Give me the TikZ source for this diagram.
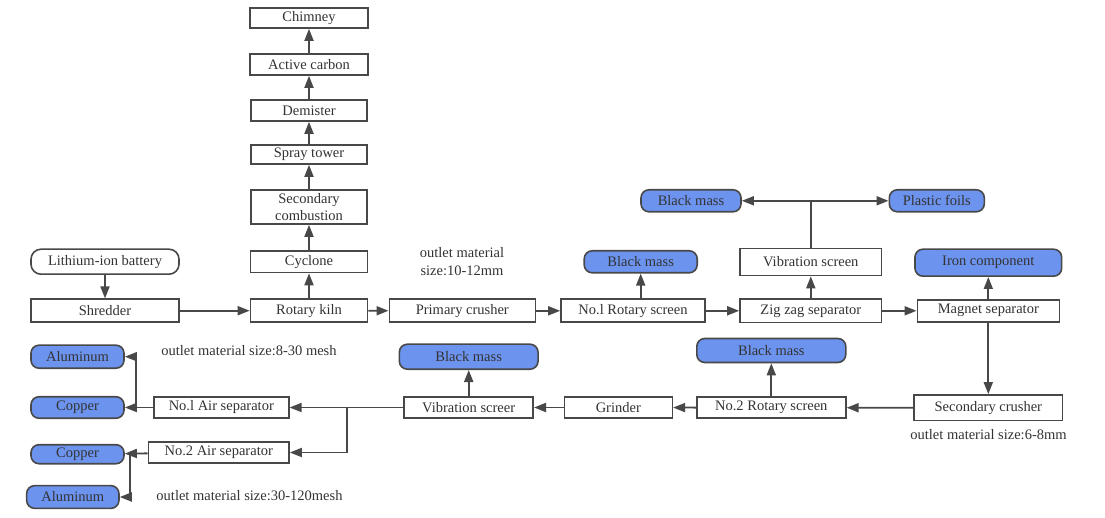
\documentclass[tikz,border=0pt]{standalone}
\usepackage{fontspec}
\setmainfont{Liberation Serif}
\usetikzlibrary{arrows.meta}
\definecolor{linec}{HTML}{484848}
\definecolor{textc}{HTML}{333333}
\definecolor{bluef}{HTML}{6C93EE}
\tikzset{
  bx/.style={draw=linec, line width=1.6pt, fill=white, inner sep=0pt, text=textc,
    font=\fontsize{14.5}{16.5}\selectfont, align=center},
  outb/.style={bx, fill=bluef, rounded corners=8pt},
  rbx/.style={bx, rounded corners=10pt},
  lbl/.style={text=textc, font=\fontsize{14.5}{18}\selectfont, inner sep=0pt, align=center},
  ar/.style={draw=linec, line width=1.8pt, -{Triangle[length=12pt,width=9pt]}},
  ln/.style={draw=linec, line width=1.8pt}
}
\begin{document}
\begin{tikzpicture}[x=1pt,y=-1pt]
\useasboundingbox (0,0) rectangle (1105,518);
% gas path
\node[bx, minimum width=118, minimum height=20] (chim) at (309,18) {Chimney};
\node[bx, minimum width=118, minimum height=21] (act) at (309,64.5) {Active carbon};
\node[bx, minimum width=116, minimum height=21] (dem) at (309,110.5) {Demister};
\node[bx, minimum width=116, minimum height=19] (spr) at (309,154.5) {Spray tower};
\node[bx, minimum width=116, minimum height=34] (sec) at (309,207) {Secondary\\combustion};
\node[bx, minimum width=117, minimum height=21.5] (cyc) at (309,261.8) {Cyclone};
\node[bx, minimum width=117, minimum height=23] (kiln) at (309,310.7) {Rotary kiln};
% left
\node[rbx, minimum width=148, minimum height=25] (li) at (105,261.7) {Lithium-ion battery};
\node[bx, minimum width=148, minimum height=23] (shr) at (105,310.7) {Shredder};
% main row
\node[bx, minimum width=146, minimum height=23] (pc) at (462.3,310.8) {Primary crusher};
\node[bx, minimum width=144, minimum height=23] (rs1) at (633,310.8) {No.l Rotary screen};
\node[outb, minimum width=113, minimum height=22] (bm1) at (640.7,261.8) {Black mass};
\node[bx, minimum width=141.7, minimum height=23.5] (zz) at (810.8,310.8) {Zig zag separator};
\node[bx, minimum width=141.7, minimum height=27] (vs) at (810.8,262) {Vibration screen};
\node[outb, minimum width=100, minimum height=22] (bm2) at (691,200.8) {Black mass};
\node[outb, minimum width=95, minimum height=22] (pf) at (936.8,200.8) {Plastic foils};
\node[bx, minimum width=142, minimum height=22] (mag) at (988.3,310.8) {Magnet separator};
\node[outb, minimum width=146.7, minimum height=27] (iron) at (988.3,262.7) {Iron component};
\node[bx, minimum width=148.7, minimum height=25.7] (sc) at (988.3,407.8) {Secondary crusher};
% lower row
\node[bx, minimum width=149, minimum height=21] (rs2) at (771.3,407.7) {No.2 Rotary screen};
\node[outb, minimum width=149, minimum height=24] (bm3) at (771.3,350.5) {Black mass};
\node[bx, minimum width=108, minimum height=21.5] (gr) at (618.3,407.5) {Grinder};
\node[bx, minimum width=129, minimum height=21.5] (vsr) at (468.7,407.5) {Vibration screer};
\node[outb, minimum width=138.7, minimum height=25] (bm4) at (468.7,356.7) {Black mass};
\node[bx, minimum width=135, minimum height=21.5] (as1) at (221.3,407.5) {No.l Air separator};
\node[bx, minimum width=140.7, minimum height=21.5] (as2) at (218.7,452.5) {No.2 Air separator};
\node[outb, minimum width=93, minimum height=23] (al1) at (77.5,356.7) {Aluminum};
\node[outb, minimum width=93, minimum height=21.5] (cu1) at (77.5,407.5) {Copper};
\node[outb, minimum width=93, minimum height=19] (cu2) at (77.5,454.2) {Copper};
\node[outb, minimum width=92.3, minimum height=22.7] (al2) at (72.8,497) {Aluminum};
% labels
\node[lbl] (t1) at (462,262) {outlet material\\size:10-12mm};
\node[lbl] (t2) at (249,350.5) {outlet material size:8-30 mesh};
\node[lbl] (t3) at (249.5,496) {outlet material size:30-120mesh};
\node[lbl] (t4) at (988.5,434.5) {outlet material size:6-8mm};
% junction coordinates
\coordinate (j1) at (810.8,200.8);
\coordinate (j2) at (346.7,407.5);
\coordinate (j3) at (136,407.5);
\coordinate (j4) at (129.7,454.2);
% connectors
\draw[ar] (li) -- (shr);
\draw[ar] (shr) -- (kiln);
\draw[ar] (kiln) -- (cyc);
\draw[ar] (cyc) -- (sec);
\draw[ar] (sec) -- (spr);
\draw[ar] (spr) -- (dem);
\draw[ar] (dem) -- (act);
\draw[ar] (act) -- (chim);
\draw[ar] (kiln) -- (pc);
\draw[ar] (pc) -- (rs1);
\draw[ar] (rs1.north -| bm1) -- (bm1);
\draw[ar] (rs1) -- (zz);
\draw[ar] (zz) -- (vs);
\draw[ln] (vs) -- (j1);
\draw[ar] (j1) -- (bm2);
\draw[ar] (j1) -- (pf);
\draw[ar] (zz) -- (mag);
\draw[ar] (mag) -- (iron);
\draw[ar] (mag) -- (sc);
\draw[ar] (sc) -- (rs2);
\draw[ar] (rs2) -- (bm3);
\draw[ar] (rs2) -- (gr);
\draw[ar] (gr) -- (vsr);
\draw[ar] (vsr) -- (bm4);
\draw[ar] (vsr) -- (as1);
\draw[ar] (j2) |- (as2);
\draw[ar] (as1) -- (cu1);
\draw[ar] (j3) |- (al1);
\draw[ar] (as2) -- (cu2);
\draw[ar] (j4) |- (al2);
\end{tikzpicture}
\end{document}
